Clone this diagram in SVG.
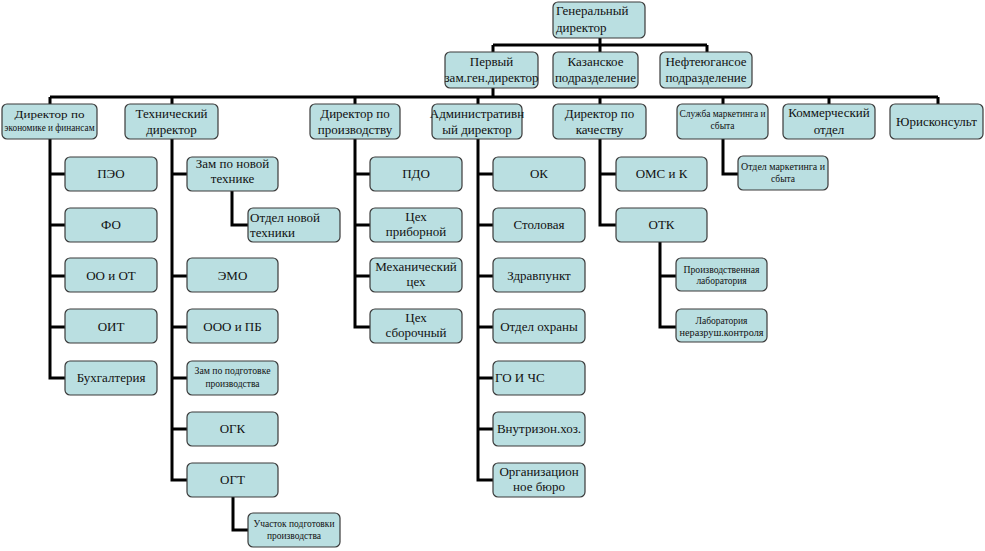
<svg xmlns="http://www.w3.org/2000/svg" width="985" height="551" viewBox="0 0 985 551">
<style>
.nodebox{fill:#badfe1;stroke:#3a3a3a;stroke-width:1.2}
.lbl{font-family:"Liberation Serif","Times New Roman",serif;font-size:13px;fill:#111;text-anchor:middle}
.lbl-left{text-anchor:start}
.lbl-small{font-size:9.5px}
.conn{fill:none;stroke:#000;stroke-width:3}
</style>
<rect width="985" height="551" fill="#fff"/>
<g id="connectors" class="conn">
<path d="M600 37V45M493 45H707M493 45V53M707 45V53M600 45V53"/>
<path d="M493 88V97M50 97H938M50 97V105M172 97V105M355 97V105M478 97V105M600 97V105M723 97V105M829 97V105M938 97V105"/>
<path d="M50 139V378H66M50 174H66M50 225H66M50 276H66M50 327H66"/>
<path d="M172 139V480H188M172 174H188M172 276H188M172 327H188M172 378H188M172 429H188"/>
<path d="M232 190V225H249M233 496V530H249"/>
<path d="M355 139V327H371M355 174H371M355 225H371M355 276H371"/>
<path d="M478 139V480H494M478 174H494M478 225H494M478 276H494M478 327H494M478 378H494M478 429H494"/>
<path d="M600 139V225H617M600 174H617"/>
<path d="M660 241V327H677M660 276H677"/>
<path d="M723 139V174H739"/>
</g>
<g id="nodes">
<g id="gen"><rect class="nodebox" x="553" y="2" width="92" height="36" rx="5"/><text class="lbl lbl-left" x="556" y="15">Генеральный</text><text class="lbl lbl-left" x="556" y="32">директор</text></g>
<g id="first"><rect class="nodebox" x="445" y="52" width="93" height="36" rx="5"/><text class="lbl" x="491.5" y="66">Первый</text><text class="lbl" x="491.5" y="82">зам.ген.директор</text></g>
<g id="kazan"><rect class="nodebox" x="553" y="52" width="85" height="36" rx="5"/><text class="lbl" x="595.5" y="66">Казанское</text><text class="lbl" x="595.5" y="82">подразделение</text></g>
<g id="neft"><rect class="nodebox" x="660" y="52" width="92" height="36" rx="5"/><text class="lbl" x="706" y="66">Нефтеюгансое</text><text class="lbl" x="706" y="82">подразделение</text></g>

<g id="econ"><rect class="nodebox" x="2" y="104" width="95" height="35" rx="5"/><text class="lbl lbl-small" x="49.5" y="118" textLength="70" lengthAdjust="spacingAndGlyphs">Директор по</text><text class="lbl lbl-small" x="49.5" y="131" textLength="90" lengthAdjust="spacingAndGlyphs">экономике и финансам</text></g>
<g id="tech"><rect class="nodebox" x="125" y="104" width="93" height="35" rx="5"/><text class="lbl" x="171.5" y="118">Технический</text><text class="lbl" x="171.5" y="134">директор</text></g>
<g id="prod"><rect class="nodebox" x="310" y="104" width="90" height="35" rx="5"/><text class="lbl" x="355" y="118">Директор по</text><text class="lbl" x="355" y="134">производству</text></g>
<g id="adm"><rect class="nodebox" x="432" y="104" width="90" height="35" rx="5"/><text class="lbl" x="477" y="118">Административн</text><text class="lbl" x="477" y="134">ый директор</text></g>
<g id="qual"><rect class="nodebox" x="553" y="104" width="93" height="35" rx="5"/><text class="lbl" x="599.5" y="118">Директор по</text><text class="lbl" x="599.5" y="134">качеству</text></g>
<g id="mark"><rect class="nodebox" x="677" y="104" width="91" height="35" rx="5"/><text class="lbl lbl-small" x="722.5" y="117" textLength="86" lengthAdjust="spacingAndGlyphs">Служба маркетинга и</text><text class="lbl lbl-small" x="722.5" y="129">сбыта</text></g>
<g id="comm"><rect class="nodebox" x="783" y="104" width="92" height="35" rx="5"/><text class="lbl" x="829" y="117">Коммерческий</text><text class="lbl" x="829" y="134">отдел</text></g>
<g id="jur"><rect class="nodebox" x="890" y="104" width="93" height="35" rx="5"/><text class="lbl" x="936.5" y="126">Юрисконсульт</text></g>

<g id="peo"><rect class="nodebox" x="65" y="157" width="92" height="34" rx="5"/><text class="lbl" x="111" y="178">ПЭО</text></g>
<g id="fo"><rect class="nodebox" x="65" y="208" width="92" height="34" rx="5"/><text class="lbl" x="111" y="229">ФО</text></g>
<g id="oo"><rect class="nodebox" x="65" y="258" width="92" height="34" rx="5"/><text class="lbl" x="111" y="280">ОО и ОТ</text></g>
<g id="oit"><rect class="nodebox" x="65" y="309" width="92" height="34" rx="5"/><text class="lbl" x="111" y="331">ОИТ</text></g>
<g id="buh"><rect class="nodebox" x="65" y="361" width="92" height="34" rx="5"/><text class="lbl" x="111" y="382">Бухгалтерия</text></g>

<g id="zamnew"><rect class="nodebox" x="187" y="157" width="91" height="34" rx="5"/><text class="lbl" x="232.5" y="168">Зам по новой</text><text class="lbl" x="232.5" y="183">технике</text></g>
<g id="otdnew"><rect class="nodebox" x="248" y="208" width="92" height="34" rx="5"/><text class="lbl lbl-left" x="250" y="222">Отдел новой</text><text class="lbl lbl-left" x="250" y="237">техники</text></g>
<g id="emo"><rect class="nodebox" x="187" y="258" width="91" height="34" rx="5"/><text class="lbl" x="232.5" y="280">ЭМО</text></g>
<g id="ooo"><rect class="nodebox" x="187" y="309" width="91" height="34" rx="5"/><text class="lbl" x="232.5" y="331">ООО и ПБ</text></g>
<g id="zamprep"><rect class="nodebox" x="187" y="361" width="91" height="34" rx="5"/><text class="lbl lbl-small" x="232.5" y="374" textLength="76" lengthAdjust="spacingAndGlyphs">Зам по подготовке</text><text class="lbl lbl-small" x="232.5" y="387">производства</text></g>
<g id="ogk"><rect class="nodebox" x="187" y="412" width="91" height="34" rx="5"/><text class="lbl" x="232.5" y="433">ОГК</text></g>
<g id="ogt"><rect class="nodebox" x="187" y="463" width="91" height="34" rx="5"/><text class="lbl" x="232.5" y="484">ОГТ</text></g>
<g id="uch"><rect class="nodebox" x="248" y="513" width="92" height="34" rx="5"/><text class="lbl lbl-small" x="294" y="527" textLength="81" lengthAdjust="spacingAndGlyphs">Участок подготовки</text><text class="lbl lbl-small" x="294" y="539">производства</text></g>

<g id="pdo"><rect class="nodebox" x="370" y="157" width="92" height="34" rx="5"/><text class="lbl" x="416" y="178">ПДО</text></g>
<g id="cehp"><rect class="nodebox" x="370" y="208" width="92" height="34" rx="5"/><text class="lbl" x="416" y="221">Цех</text><text class="lbl" x="416" y="236">приборной</text></g>
<g id="mech"><rect class="nodebox" x="370" y="258" width="92" height="34" rx="5"/><text class="lbl" x="416" y="271">Механический</text><text class="lbl" x="416" y="286">цех</text></g>
<g id="cehs"><rect class="nodebox" x="370" y="309" width="92" height="34" rx="5"/><text class="lbl" x="416" y="322">Цех</text><text class="lbl" x="416" y="337">сборочный</text></g>

<g id="ok"><rect class="nodebox" x="493" y="157" width="92" height="34" rx="5"/><text class="lbl" x="539" y="178">ОК</text></g>
<g id="stol"><rect class="nodebox" x="493" y="208" width="92" height="34" rx="5"/><text class="lbl" x="539" y="229">Столовая</text></g>
<g id="zdrav"><rect class="nodebox" x="493" y="258" width="92" height="34" rx="5"/><text class="lbl" x="539" y="280">Здравпункт</text></g>
<g id="ohr"><rect class="nodebox" x="493" y="309" width="92" height="34" rx="5"/><text class="lbl" x="539" y="331">Отдел  охраны</text></g>
<g id="go"><rect class="nodebox" x="493" y="361" width="92" height="34" rx="5"/><text class="lbl lbl-left" x="495" y="382">ГО И ЧС</text></g>
<g id="vnutr"><rect class="nodebox" x="493" y="412" width="92" height="34" rx="5"/><text class="lbl" x="539" y="433">Внутризон.хоз.</text></g>
<g id="org"><rect class="nodebox" x="493" y="463" width="92" height="34" rx="5"/><text class="lbl" x="539" y="476">Организацион</text><text class="lbl" x="539" y="491">ное бюро</text></g>

<g id="oms"><rect class="nodebox" x="616" y="157" width="91" height="34" rx="5"/><text class="lbl" x="661.5" y="178">ОМС  и К</text></g>
<g id="otk"><rect class="nodebox" x="616" y="208" width="91" height="34" rx="5"/><text class="lbl" x="661.5" y="229">ОТК</text></g>
<g id="prlab"><rect class="nodebox" x="676" y="258" width="91" height="33" rx="5"/><text class="lbl lbl-small" x="721.5" y="273" textLength="76" lengthAdjust="spacingAndGlyphs">Производственная</text><text class="lbl lbl-small" x="721.5" y="284">лаборатория</text></g>
<g id="nlab"><rect class="nodebox" x="676" y="309" width="91" height="33" rx="5"/><text class="lbl lbl-small" x="721.5" y="324">Лаборатория</text><text class="lbl lbl-small" x="721.5" y="336" textLength="84" lengthAdjust="spacingAndGlyphs">неразруш.контроля</text></g>
<g id="otdmark"><rect class="nodebox" x="738" y="156" width="90" height="34" rx="5"/><text class="lbl lbl-small" x="783" y="170" textLength="84" lengthAdjust="spacingAndGlyphs">Отдел маркетинга  и</text><text class="lbl lbl-small" x="783" y="182">сбыта</text></g>
</g>
</svg>
